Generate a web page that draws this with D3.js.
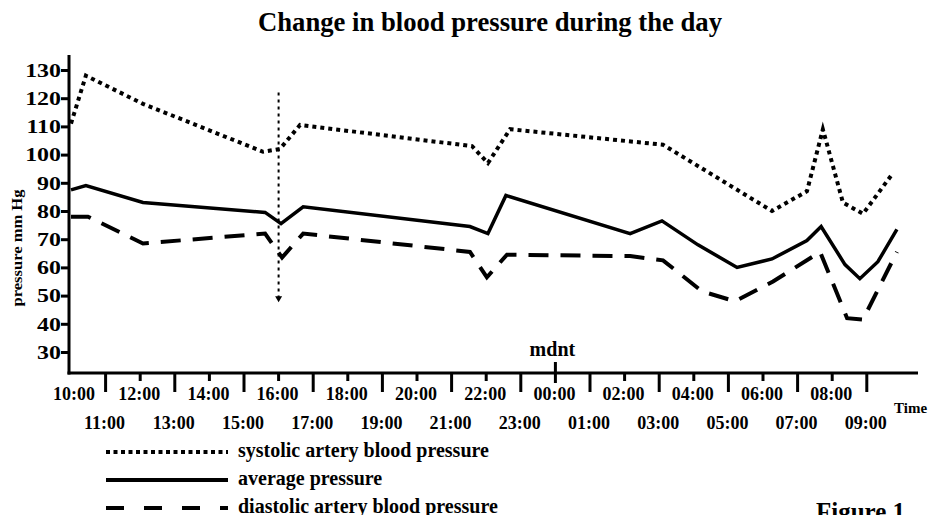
<!DOCTYPE html>
<html>
<head>
<meta charset="utf-8">
<script src="https://cdn.jsdelivr.net/npm/d3@7"></script>
<style>
  body { margin: 0; background: #fff; }
  svg { display: block; font-family: "Liberation Serif", "Times New Roman", serif; }
</style>
</head>
<body>
<svg id="chart"></svg>
<script>
// hours counted from 10:00
const sysTime  = [0, 0.43, 2.08, 5.55, 6.04, 6.62, 11.59, 12.05, 12.69, 17.11, 20.26, 21.27, 21.73, 22.31, 22.89, 23.76];
const sysValue = [111, 128, 118, 101, 102, 110.5, 103, 97, 109, 103.5, 80, 87, 109, 83, 79, 93.5];

const avgTime  = [0, 0.43, 2.08, 5.61, 6.07, 6.71, 11.53, 12.05, 12.57, 16.16, 17.08, 18.12, 19.25, 20.26, 21.27, 21.68, 22.37, 22.8, 23.32, 23.87];
const avgValue = [87.5, 89, 83, 79.5, 75.5, 81.5, 74.5, 72, 85.5, 72, 76.5, 68, 60, 63, 69.5, 74.5, 61, 56, 62, 73.5];

const diaTime  = [0, 0.49, 2.08, 5.61, 6.1, 6.71, 11.53, 12.02, 12.6, 16.16, 17.11, 18.24, 19.19, 20.29, 21.65, 22.43, 22.89, 23.87];
const diaValue = [78, 78, 68.5, 72, 63.5, 72, 65.5, 56.5, 64.5, 64, 62.5, 51.5, 48, 55, 65.5, 42, 41.5, 65.5];

const hourLabels = ['10:00','11:00','12:00','13:00','14:00','15:00','16:00','17:00','18:00','19:00',
  '20:00','21:00','22:00','23:00','00:00','01:00','02:00','03:00','04:00','05:00','06:00','07:00','08:00','09:00'];
const yTicks = [30, 40, 50, 60, 70, 80, 90, 100, 110, 120, 130];

// dotted arrow at 16:00
const arrowTime = 6, arrowTop = 122, arrowBottom = 48;

const legendItems = ['systolic artery blood pressure', 'average pressure', 'diastolic artery blood pressure'];

const W = 931, H = 515;
const svg = d3.select('#chart').attr('width', W).attr('height', H);

const x = d3.scaleLinear().domain([0, 24.5]).range([71, 918.7]);
const y = d3.scaleLinear().domain([30, 130]).range([352, 70]);
const axisY = 373, axisTop = 55;

// title
svg.append('text')
  .attr('x', 258).attr('y', 31)
  .attr('textLength', 464).attr('lengthAdjust', 'spacingAndGlyphs')
  .style('font-size', '27px').style('font-weight', 'bold')
  .text('Change in blood pressure during the day');

// y axis
const yAxis = d3.axisLeft(y).tickValues(yTicks).tickSize(8).tickSizeOuter(0);
const yAxisG = svg.append('g').attr('transform', `translate(69,0)`).call(yAxis);
yAxisG.select('.domain').remove();
yAxisG.selectAll('line').attr('stroke', '#000').attr('stroke-width', 3);
yAxisG.selectAll('text')
  .attr('x', -6).attr('dy', '0.35em')
  .attr('transform', 'scale(1.33,1)')
  .attr('fill', '#000')
  .style('font-size', '18px').style('font-weight', 'bold')
  .style('font-family', '"Liberation Serif", serif');

svg.append('line')
  .attr('x1', 69).attr('x2', 69).attr('y1', axisTop).attr('y2', axisY + 1.5)
  .attr('stroke', '#000').attr('stroke-width', 3);

svg.append('text')
  .attr('transform', 'translate(22,248) rotate(-90)')
  .attr('text-anchor', 'middle')
  .attr('textLength', 117).attr('lengthAdjust', 'spacingAndGlyphs')
  .style('font-size', '14px').style('font-weight', 'bold')
  .text('pressure mm Hg');

// x axis
svg.append('line')
  .attr('x1', 67.5).attr('x2', 918).attr('y1', axisY).attr('y2', axisY)
  .attr('stroke', '#000').attr('stroke-width', 3);

const hours = d3.range(1, hourLabels.length);
svg.append('g').selectAll('line')
  .data(hours)
  .join('line')
  .attr('x1', d => x(d)).attr('x2', d => x(d))
  .attr('y1', d => d === 14 ? axisY - 11 : axisY)
  .attr('y2', d => d === 14 ? axisY + 10 : (d % 2 ? axisY + 19 : axisY + 8))
  .attr('stroke', '#000').attr('stroke-width', 3);

svg.append('g').selectAll('text')
  .data(hourLabels)
  .join('text')
  .attr('x', (d, i) => x(i) + (i === 0 ? 3 : -1))
  .attr('y', (d, i) => i % 2 ? 429 : 400)
  .attr('text-anchor', 'middle')
  .style('font-size', '18px').style('font-weight', 'bold')
  .text(d => d);

svg.append('text')
  .attr('x', x(14) - 3).attr('y', 356)
  .attr('text-anchor', 'middle')
  .style('font-size', '20px').style('font-weight', 'bold')
  .text('mdnt');

svg.append('text')
  .attr('x', 894).attr('y', 413)
  .style('font-size', '15px').style('font-weight', 'bold')
  .text('Time');

// series
const line = d3.line().x(d => x(d[0])).y(d => y(d[1]));
const series = [
  {t: sysTime, v: sysValue, dash: '4,4', width: 4},
  {t: avgTime, v: avgValue, dash: null, width: 3.5},
  {t: diaTime, v: diaValue, dash: '20,12', width: 4}
];
svg.append('g').selectAll('path')
  .data(series)
  .join('path')
  .attr('d', s => line(d3.zip(s.t, s.v)))
  .attr('fill', 'none')
  .attr('stroke', '#000')
  .attr('stroke-width', s => s.width)
  .attr('stroke-dasharray', s => s.dash)
  .attr('stroke-linejoin', 'miter');

// arrow
svg.append('line')
  .attr('x1', x(arrowTime)).attr('x2', x(arrowTime))
  .attr('y1', y(arrowTop)).attr('y2', y(arrowBottom) - 4)
  .attr('stroke', '#000').attr('stroke-width', 2).attr('stroke-dasharray', '3,4');
svg.append('path')
  .attr('d', `M${x(arrowTime) - 3.5},${y(arrowBottom) - 5} L${x(arrowTime) + 3.5},${y(arrowBottom) - 5} L${x(arrowTime)},${y(arrowBottom) + 1} Z`)
  .attr('fill', '#000');

// legend
const legendDash = ['4,3.5', null, '18,20'];
const legendG = svg.append('g').selectAll('g')
  .data(legendItems)
  .join('g')
  .attr('transform', (d, i) => `translate(0,${452 + i * 28})`);
legendG.append('line')
  .attr('x1', 106).attr('x2', 228)
  .attr('stroke', '#000').attr('stroke-width', 4)
  .attr('stroke-dasharray', (d, i) => legendDash[i]);
legendG.append('text')
  .attr('x', 238).attr('y', 5)
  .style('font-size', '20px').style('font-weight', 'bold')
  .text(d => d);

svg.append('text')
  .attr('x', 816).attr('y', 520)
  .style('font-size', '25px').style('font-weight', 'bold')
  .text('Figure 1');
</script>
</body>
</html>
